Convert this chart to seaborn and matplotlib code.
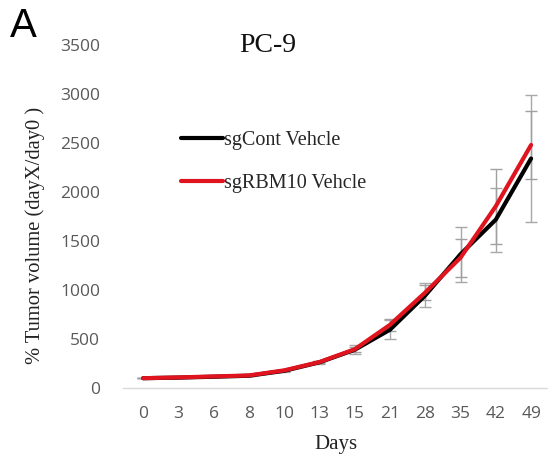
import matplotlib
matplotlib.use("Agg")
import matplotlib.pyplot as plt
import seaborn as sns
import pandas as pd
import numpy as np

days = ["0", "3", "6", "8", "10", "13", "15", "21", "28", "35", "42", "49"]
series_names = ["sgCont Vehcle", "sgRBM10 Vehcle"]
cont_mean = [100, 106, 115, 125, 175, 262, 390, 595, 945, 1365, 1718, 2342]
cont_sd = [0, 4, 5, 6, 8, 12, 45, 98, 122, 281, 327, 645]
rbm_mean = [100, 108, 118, 128, 180, 265, 395, 645, 975, 1330, 1855, 2480]
rbm_sd = [0, 4, 5, 6, 8, 12, 25, 60, 80, 194, 384, 343]
yticks = [0, 500, 1000, 1500, 2000, 2500, 3000, 3500]

sns.set_theme(style="white")
plt.rcParams["font.family"] = ["DejaVu Sans"]

pos = list(range(len(days)))
df = pd.DataFrame({
    "pos": pos * 2,
    "value": cont_mean + rbm_mean,
    "series": [series_names[0]] * len(days) + [series_names[1]] * len(days),
})

fig = plt.figure(figsize=(5.48, 4.55), dpi=100)
ax_left, ax_right, ax_top, ax_bot = 123, 548, 45, 388
ax = fig.add_axes([ax_left / 548, (455 - ax_bot) / 455,
                   (ax_right - ax_left) / 548, (ax_bot - ax_top) / 455])

ax.errorbar(pos, cont_mean, yerr=cont_sd, fmt="none", ecolor="#a8a8a8",
            elinewidth=1, capsize=4, capthick=1, zorder=1)
ax.errorbar(pos, rbm_mean, yerr=rbm_sd, fmt="none", ecolor="#a0a0a0",
            elinewidth=1, capsize=4, capthick=1, zorder=1)

sns.lineplot(data=df, x="pos", y="value", hue="series",
             palette={series_names[0]: "#000000", series_names[1]: "#e0141e"},
             linewidth=3, ax=ax, zorder=3, legend=True)

ax.set_xlim(-0.57, 11.48)
ax.set_ylim(0, 3500)
ax.set_xticks(pos)
ax.set_xticklabels(days)
ax.set_yticks(yticks)
ax.set_yticklabels([str(v) for v in yticks])
ax.tick_params(axis="both", length=0, labelsize=12.5, labelcolor="#595959")
ax.tick_params(axis="y", pad=16.5)
ax.tick_params(axis="x", pad=13)
for lab in ax.get_xticklabels() + ax.get_yticklabels():
    lab.set_family("Open Sans")

for s in ["left", "right", "top"]:
    ax.spines[s].set_visible(False)
ax.spines["bottom"].set_color("#d9d9d9")
ax.spines["bottom"].set_linewidth(1)

ax.set_xlabel("Days", family="Liberation Serif", fontsize=15, color="#222222", labelpad=9)
ax.set_ylabel("% Tumor volume (dayX/day0 )", family="Liberation Serif", fontsize=14.8,
              color="#222222")
ax.yaxis.set_label_coords((45 - ax_left) / (ax_right - ax_left), (ax_bot - 235) / (ax_bot - ax_top))

leg = ax.legend(loc="upper left", bbox_to_anchor=(163 / 548, 1 - 113 / 455),
                bbox_transform=fig.transFigure, frameon=False,
                prop={"family": "Liberation Serif", "size": 14.5},
                handlelength=2.1, handletextpad=0.05, labelspacing=1.2)
for line in leg.get_lines():
    line.set_linewidth(3)

fig.text(268 / 548, 1 - 45 / 455, "PC-9", family="Liberation Serif", fontsize=20,
         ha="center", va="center", color="#111111")
fig.text(10 / 548, 1 - 26 / 455, "A", family="Liberation Sans", fontsize=29,
         ha="left", va="center", color="#000000")

fig.savefig("out.png", dpi=100)
